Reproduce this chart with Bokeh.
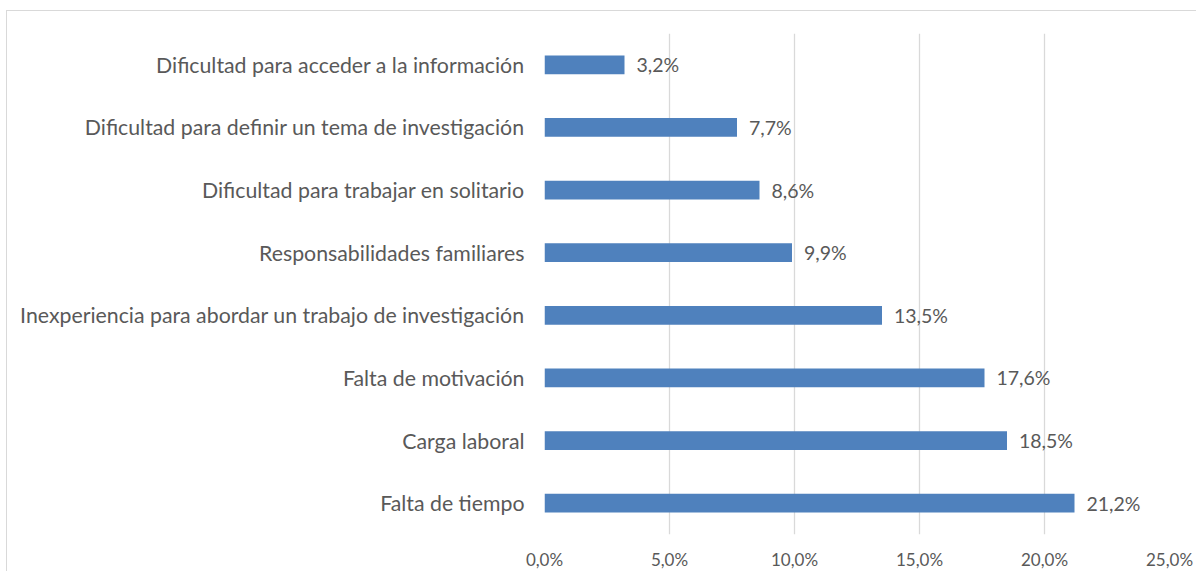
from bokeh.plotting import figure
from bokeh.models import Range1d, FixedTicker, ColumnDataSource, LabelSet
from bokeh.core.properties import value
from bokeh.embed import file_html
from bokeh.resources import INLINE

categories = [
    "Dificultad para acceder a la información",
    "Dificultad para definir un tema de investigación",
    "Dificultad para trabajar en solitario",
    "Responsabilidades familiares",
    "Inexperiencia para abordar un trabajo de investigación",
    "Falta de motivación",
    "Carga laboral",
    "Falta de tiempo",
]
values = [3.2, 7.7, 8.6, 9.9, 13.5, 17.6, 18.5, 21.2]
value_labels = ["3,2%", "7,7%", "8,6%", "9,9%", "13,5%", "17,6%", "18,5%", "21,2%"]
tick_values = [0, 5, 10, 15, 20, 25]
tick_labels = ["0,0%", "5,0%", "10,0%", "15,0%", "20,0%", "25,0%"]

FONT = "Lato"
GRAY = "#595959"

src = ColumnDataSource(dict(cat=categories, val=values, lab=value_labels))

p = figure(
    y_range=list(reversed(categories)),
    x_range=Range1d(0, 25),
    width=1190, height=561,
    output_backend="svg", toolbar_location=None,
    min_border_left=537, min_border_right=28,
    min_border_top=22, min_border_bottom=34,
)
p.styles = {"border-top": "1px solid #d9d9d9", "border-left": "1px solid #d9d9d9",
            "margin-left": "6px", "margin-top": "10px"}

p.hbar(y="cat", right="val", left=0, height=0.3, source=src,
       fill_color="#4f81bd", line_color=None)

labels = LabelSet(x="val", y="cat", text="lab", source=src, x_offset=12,
                  text_baseline="middle", text_align="left",
                  text_font=value(FONT), text_font_size=value("19.5px"),
                  text_color=value(GRAY))
p.add_layout(labels)

p.outline_line_color = None
p.ygrid.grid_line_color = None
p.xgrid.grid_line_color = "#d9d9d9"
p.xgrid.grid_line_width = 1.3
p.xaxis.ticker = FixedTicker(ticks=tick_values)
p.xaxis.major_label_overrides = {v: l for v, l in zip(tick_values, tick_labels)}
p.xaxis.axis_line_color = None
p.xaxis.major_tick_line_color = None
p.xaxis.minor_tick_line_color = None
p.xaxis.major_tick_out = 0
p.xaxis.major_tick_in = 0
p.xaxis.minor_tick_out = 0
p.xaxis.major_label_standoff = 14
p.xaxis.major_label_text_font = FONT
p.xaxis.major_label_text_font_size = "17px"
p.xaxis.major_label_text_color = GRAY

p.yaxis.axis_line_color = None
p.yaxis.major_tick_line_color = None
p.yaxis.minor_tick_line_color = None
p.yaxis.major_label_standoff = 14
p.yaxis.major_label_text_font = FONT
p.yaxis.major_label_text_font_size = "21.3px"
p.yaxis.major_label_text_color = GRAY

open("out.html", "w").write(file_html(p, INLINE))
